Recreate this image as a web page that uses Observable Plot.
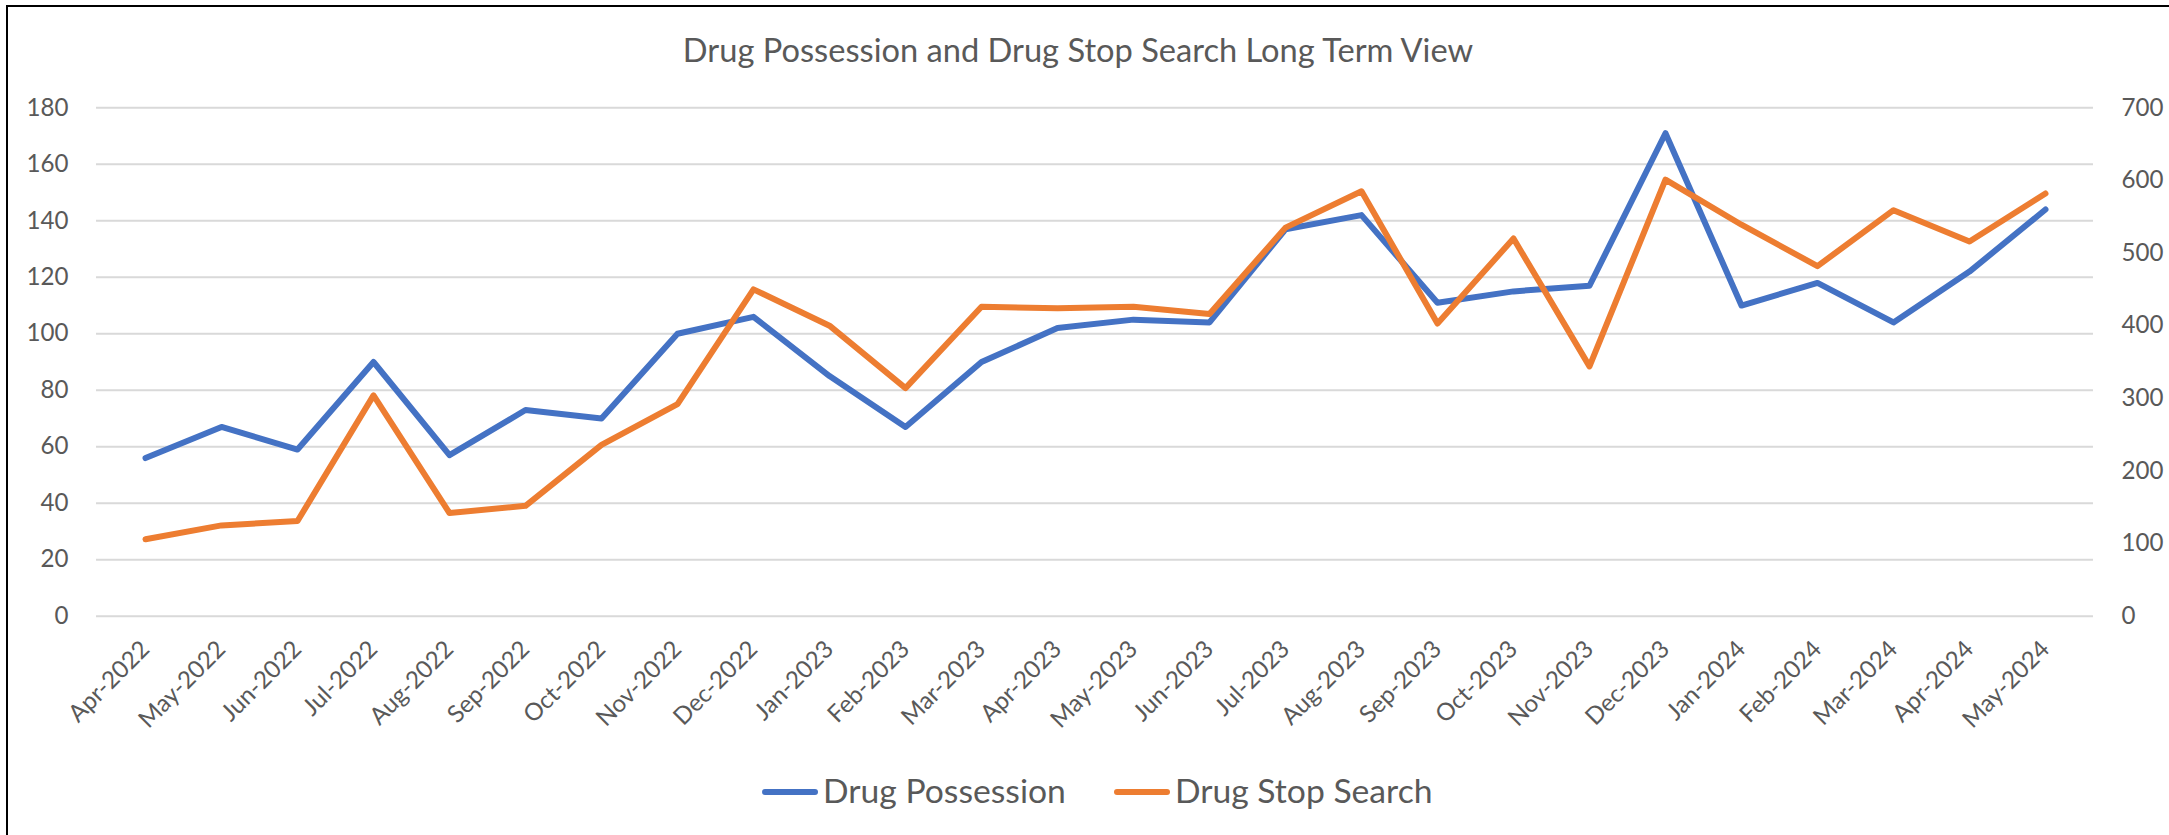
<!DOCTYPE html>
<html>
<head>
<meta charset="utf-8">
<script src="https://cdn.jsdelivr.net/npm/d3@7"></script>
<script src="https://cdn.jsdelivr.net/npm/@observablehq/plot@0.6"></script>
<style>
  html, body { margin: 0; padding: 0; background: #fff; }
  body { width: 2169px; height: 835px; overflow: hidden; position: relative; font-family: Lato, "Open Sans", sans-serif; color: #595959; }
  #frame { position: absolute; left: 6px; top: 5px; width: 4000px; height: 4000px; border-left: 2px solid #000; border-top: 2px solid #000; }
  #title { position: absolute; left: 0; width: 2156px; text-align: center; line-height: 1.2; white-space: nowrap; color: #595959; }
  #chart { position: absolute; left: 0; top: 80px; }
  #legend { position: absolute; left: 762px; display: flex; align-items: center; line-height: 1.2; white-space: nowrap; color: #595959; }
  .sw { display: inline-block; height: 6px; border-radius: 3px; margin-top: 4px; }
</style>
</head>
<body>
<div id="frame"></div>
<div id="title">Drug Possession and Drug Stop Search Long Term View</div>
<div id="chart"></div>
<div id="legend"></div>
<script>
// ---- data ----
const months = ["Apr-2022","May-2022","Jun-2022","Jul-2022","Aug-2022","Sep-2022","Oct-2022","Nov-2022","Dec-2022",
  "Jan-2023","Feb-2023","Mar-2023","Apr-2023","May-2023","Jun-2023","Jul-2023","Aug-2023","Sep-2023","Oct-2023","Nov-2023","Dec-2023",
  "Jan-2024","Feb-2024","Mar-2024","Apr-2024","May-2024"];
const drugPossession = [56,67,59,90,57,73,70,100,106,85,67,90,102,105,104,137,142,111,115,117,171,110,118,104,122,144];
const drugStopSearch = [106,125,131,304,142,152,236,292,450,400,314,426,424,426,416,535,585,403,520,344,601,539,482,559,516,582];
const leftTicks = [0,20,40,60,80,100,120,140,160,180];
const rightTicks = [0,100,200,300,400,500,600,700];
const seriesNames = ["Drug Possession", "Drug Stop Search"];
const seriesColors = ["#4472C4", "#ED7D31"];

// ---- font sizing helper (match reference text widths) ----
const ctx = document.createElement("canvas").getContext("2d");
function fit(text, target) {
  ctx.font = "100px Lato";
  return 100 * target / ctx.measureText(text).width;
}
const titleSize = fit("Drug Possession and Drug Stop Search Long Term View", 793);
const tickSize = fit("180", 42);
const xTickSize = fit("Apr-2022", 103);
const legendSize = fit("Drug Possession", 243);

// title
const title = document.getElementById("title");
title.style.fontSize = titleSize + "px";
title.style.top = (62 - 0.987 * titleSize) + "px";

// ---- chart ----
const leftMax = 180, rightMax = 700;
const k = leftMax / rightMax;
const rowsA = months.map((m, i) => ({month: m, v: drugPossession[i]}));
const rowsB = months.map((m, i) => ({month: m, v: drugStopSearch[i] * k}));

const marginTop = 27.3, plotH = 508.4, marginBottom = 158;
const chart = Plot.plot({
  width: 2169,
  height: marginTop + plotH + marginBottom,
  marginLeft: 96,
  marginRight: 76,
  marginTop,
  marginBottom,
  x: {type: "point", domain: months, padding: 0.5},
  y: {domain: [0, leftMax]},
  style: {fontFamily: "Lato", fontSize: tickSize + "px", color: "#595959", background: "transparent"},
  marks: [
    Plot.gridY(leftTicks, {stroke: "#d9d9d9", strokeOpacity: 1, strokeWidth: 2}),
    Plot.axisY(leftTicks, {anchor: "left", tickSize: 0, tickPadding: 28, label: null, fill: "#595959"}),
    Plot.axisY(rightTicks.map(v => v * k), {anchor: "right", tickSize: 0, tickPadding: 28, label: null, fill: "#595959",
      tickFormat: d => String(Math.round(d / k))}),
    Plot.axisX({tickRotate: -45, tickSize: 0, tickPadding: 29, label: null, fill: "#595959", fontSize: xTickSize}),
    Plot.lineY(rowsA, {x: "month", y: "v", stroke: seriesColors[0], strokeWidth: 6, strokeLinecap: "round", strokeLinejoin: "round"}),
    Plot.lineY(rowsB, {x: "month", y: "v", stroke: seriesColors[1], strokeWidth: 6, strokeLinecap: "round", strokeLinejoin: "round"})
  ]
});
document.getElementById("chart").appendChild(chart);

// ---- legend ----
const legend = document.getElementById("legend");
legend.style.fontSize = legendSize + "px";
legend.style.top = (803 - 0.987 * legendSize) + "px";
seriesNames.forEach((name, i) => {
  const item = document.createElement("div");
  item.style.display = "flex";
  item.style.alignItems = "center";
  item.style.marginRight = i === 0 ? "48px" : "0";
  const sw = document.createElement("span");
  sw.className = "sw";
  sw.style.width = "56px";
  sw.style.background = seriesColors[i];
  sw.style.marginRight = "5px";
  const t = document.createElement("span");
  t.textContent = name;
  item.appendChild(sw);
  item.appendChild(t);
  legend.appendChild(item);
});
</script>
</body>
</html>
